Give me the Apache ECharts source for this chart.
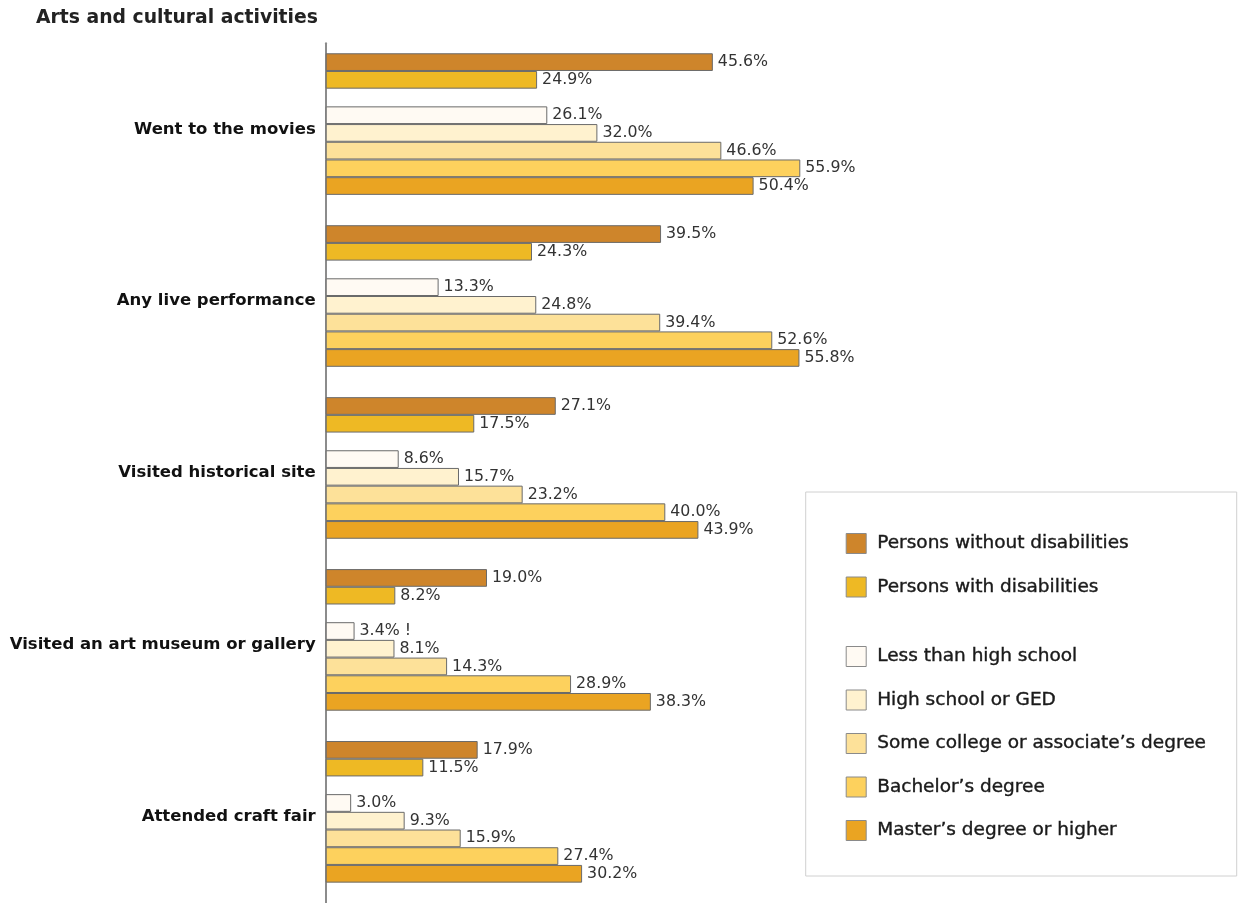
<!DOCTYPE html>
<html>
<head>
<meta charset="utf-8">
<title>Arts and cultural activities</title>
<script src="https://cdn.jsdelivr.net/npm/echarts@6/dist/echarts.min.js"></script>
<style>
  html, body { margin: 0; padding: 0; background: #fff; }
  #chart { width: 1238px; height: 903px; }
</style>
</head>
<body>
<div id="chart"></div>
<script>
  const categories = [
    'Went to the movies',
    'Any live performance',
    'Visited historical site',
    'Visited an art museum or gallery',
    'Attended craft fair'
  ];

  // percent of adults, top to bottom
  const withoutDisabilities = [45.6, 39.5, 27.1, 19.0, 17.9];
  const withDisabilities = [24.9, 24.3, 17.5, 8.2, 11.5];
  const lessThanHighSchool = [26.1, 13.3, 8.6, 3.4, 3.0];
  const highSchool = [32.0, 24.8, 15.7, 8.1, 9.3];
  const someCollege = [46.6, 39.4, 23.2, 14.3, 15.9];
  const bachelors = [55.9, 52.6, 40.0, 28.9, 27.4];
  const masters = [50.4, 55.8, 43.9, 38.3, 30.2];

  // "!" = interpret with caution
  const lessThanHighSchoolFlags = ['', '', '', '!', ''];

  const disabilityNames = ['Persons without disabilities', 'Persons with disabilities'];
  const educationNames = [
    'Less than high school',
    'High school or GED',
    'Some college or associate\u2019s degree',
    'Bachelor\u2019s degree',
    'Master\u2019s degree or higher'
  ];

  const colors = {
    'Persons without disabilities': '#CE852B',
    'Persons with disabilities': '#EEB924',
    'Less than high school': '#FFFAF3',
    'High school or GED': '#FFF2CF',
    'Some college or associate\u2019s degree': '#FDE199',
    'Bachelor\u2019s degree': '#FDD15D',
    'Master\u2019s degree or higher': '#EAA422'
  };

  const FONT = '"DejaVu Sans", sans-serif';
  const BAR = 17.7;

  function barSeries(name, data, flags) {
    return {
      name: name,
      type: 'bar',
      data: data,
      barWidth: BAR,
      barGap: 0,
      animation: false,
      itemStyle: {color: colors[name], borderColor: '#6a6a6a', borderWidth: 1},
      label: {
        show: true,
        position: 'right',
        distance: 5,
        color: '#333',
        fontFamily: FONT,
        fontSize: 15.8,
        formatter: p => p.value.toFixed(1) + '%' + (flags && flags[p.dataIndex] ? ' ' + flags[p.dataIndex] : '')
      }
    };
  }

  // empty slots: one between the two groups of bars, one short one at the end
  function spacer(width) {
    return {name: '', type: 'bar', data: [], barWidth: width, barGap: 0, silent: true, animation: false};
  }

  const series = [
    barSeries(disabilityNames[0], withoutDisabilities),
    barSeries(disabilityNames[1], withDisabilities),
    spacer(BAR),
    barSeries(educationNames[0], lessThanHighSchool, lessThanHighSchoolFlags),
    barSeries(educationNames[1], highSchool),
    barSeries(educationNames[2], someCollege),
    barSeries(educationNames[3], bachelors),
    barSeries(educationNames[4], masters),
    spacer(10.4)
  ];

  function legend(names, top) {
    return {
      data: names,
      orient: 'vertical',
      left: 845.7,
      top: top,
      padding: 0,
      itemWidth: 20,
      itemHeight: 20,
      itemGap: 22.5,
      icon: 'rect',
      selectedMode: false,
      itemStyle: {borderColor: '#8a8a8a', borderWidth: 1},
      textStyle: {
        fontFamily: FONT,
        fontSize: 18.5,
        color: '#1a1a1a',
        lineHeight: 20,
        padding: [0, 0, 0, 6],
        textBorderColor: '#1a1a1a',
        textBorderWidth: 0.4
      }
    };
  }

  const chart = echarts.init(document.getElementById('chart'));
  chart.setOption({
    backgroundColor: '#fff',
    title: {
      text: 'Arts and cultural activities',
      left: 31,
      top: 4,
      textStyle: {fontFamily: FONT, fontSize: 18.8, fontWeight: 'bold', color: '#222'}
    },
    legend: [legend(disabilityNames, 533), legend(educationNames, 646)],
    graphic: [{
      type: 'rect',
      z: 0,
      shape: {x: 805.7, y: 492, width: 431, height: 384},
      style: {fill: '#fff', stroke: '#d0d0d0', lineWidth: 1}
    }],
    grid: {left: 325.7, right: 63.3, top: 43.3, bottom: -10.3},
    xAxis: {
      type: 'value',
      min: 0,
      max: 100,
      show: false
    },
    yAxis: {
      type: 'category',
      inverse: true,
      data: categories,
      axisTick: {show: false},
      axisLine: {lineStyle: {color: '#8c8c8c', width: 2}},
      axisLabel: {fontFamily: FONT, fontSize: 16.5, fontWeight: 'bold', color: '#111', margin: 10}
    },
    series: series
  });
</script>
</body>
</html>
